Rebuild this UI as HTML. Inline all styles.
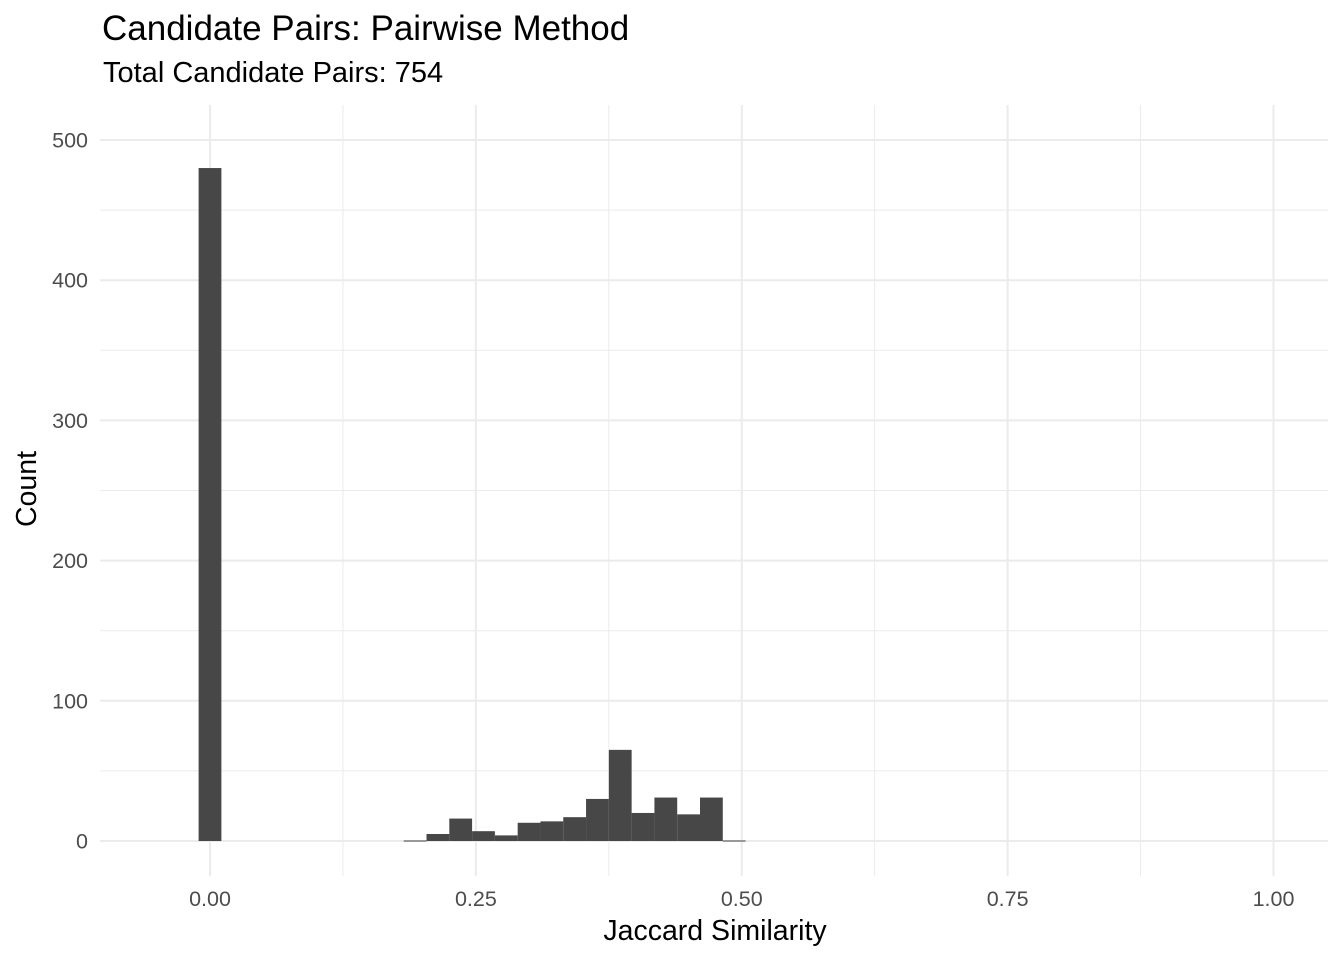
<!DOCTYPE html>
<html><head><meta charset="utf-8"><style>
html,body{margin:0;padding:0;background:#fff;}
svg text{font-family:"Liberation Sans",Arial,sans-serif;}
</style></head><body>
<svg id="chart" width="1344" height="960" xmlns="http://www.w3.org/2000/svg">
<text x="102" y="40" font-size="35" fill="#000">Candidate Pairs: Pairwise Method</text>
<text x="103" y="82" font-size="29" fill="#000">Total Candidate Pairs: 754</text>
<g id="grid"></g><g id="bars"></g><g id="ticks"></g>
<text x="715" y="940" font-size="28.5" text-anchor="middle" fill="#000">Jaccard Similarity</text>
<text transform="translate(36,489) rotate(-90)" font-size="28.5" text-anchor="middle" fill="#000">Count</text>
</svg>
<script>
const binIndex=[0,9,10,11,12,13,14,15,16,17,18,19,20,21,22,23];
const counts=[480,0,5,16,7,4,13,14,17,30,65,20,31,19,31,0];
const binWidth=0.02143;
const xTicks=[0,0.25,0.5,0.75,1];
const xTickLabels=["0.00","0.25","0.50","0.75","1.00"];
const yTicks=[0,100,200,300,400,500];
const NS="http://www.w3.org/2000/svg";
const X=v=>210+v*1063.5, Y=v=>841-v*1.402;
const grid=document.getElementById('grid'),bars=document.getElementById('bars'),ticks=document.getElementById('ticks');
function mk(tag,attrs,parent){const e=document.createElementNS(NS,tag);for(const k in attrs)e.setAttribute(k,attrs[k]);parent.appendChild(e);return e;}
const L=100,R=1328,T=105,B=876;
for(let i=-1;i<xTicks.length;i++){const v=(i<0?0:xTicks[i])+(i<0?-0.125:0.125);if(X(v)>L&&X(v)<R){const l=mk('line',{x1:X(v),x2:X(v),y1:T,y2:B,stroke:'#ebebeb','stroke-width':1},grid);}}
for(let i=0;i<yTicks.length;i++){const v=yTicks[i]+50;if(Y(v)>T){const l=mk('line',{x1:L,x2:R,y1:Y(v),y2:Y(v),stroke:'#ebebeb','stroke-width':1},grid);}}
xTicks.forEach((v,i)=>{const l=mk('line',{x1:X(v),x2:X(v),y1:T,y2:B,stroke:'#ebebeb','stroke-width':2},grid);
const t=mk('text',{x:X(v),y:906,'font-size':21.5,fill:'#4d4d4d','text-anchor':'middle'},ticks);t.textContent=xTickLabels[i];});
yTicks.forEach(v=>{const l=mk('line',{x1:L,x2:R,y1:Y(v),y2:Y(v),stroke:'#ebebeb','stroke-width':2},grid);
const t=mk('text',{x:88,y:Y(v)+7.5,'font-size':21.5,fill:'#4d4d4d','text-anchor':'end'},ticks);t.textContent=String(v);});
binIndex.forEach((k,i)=>{const c=k*binWidth;const x0=X(c-binWidth/2),x1=X(c+binWidth/2);const h=Math.max(counts[i]*1.402,0);
const r=mk('rect',{x:x0,y:Y(counts[i])-(h?0:0.5),width:x1-x0,height:h||1,fill:'#474747'},bars);});
</script>
</body></html>
